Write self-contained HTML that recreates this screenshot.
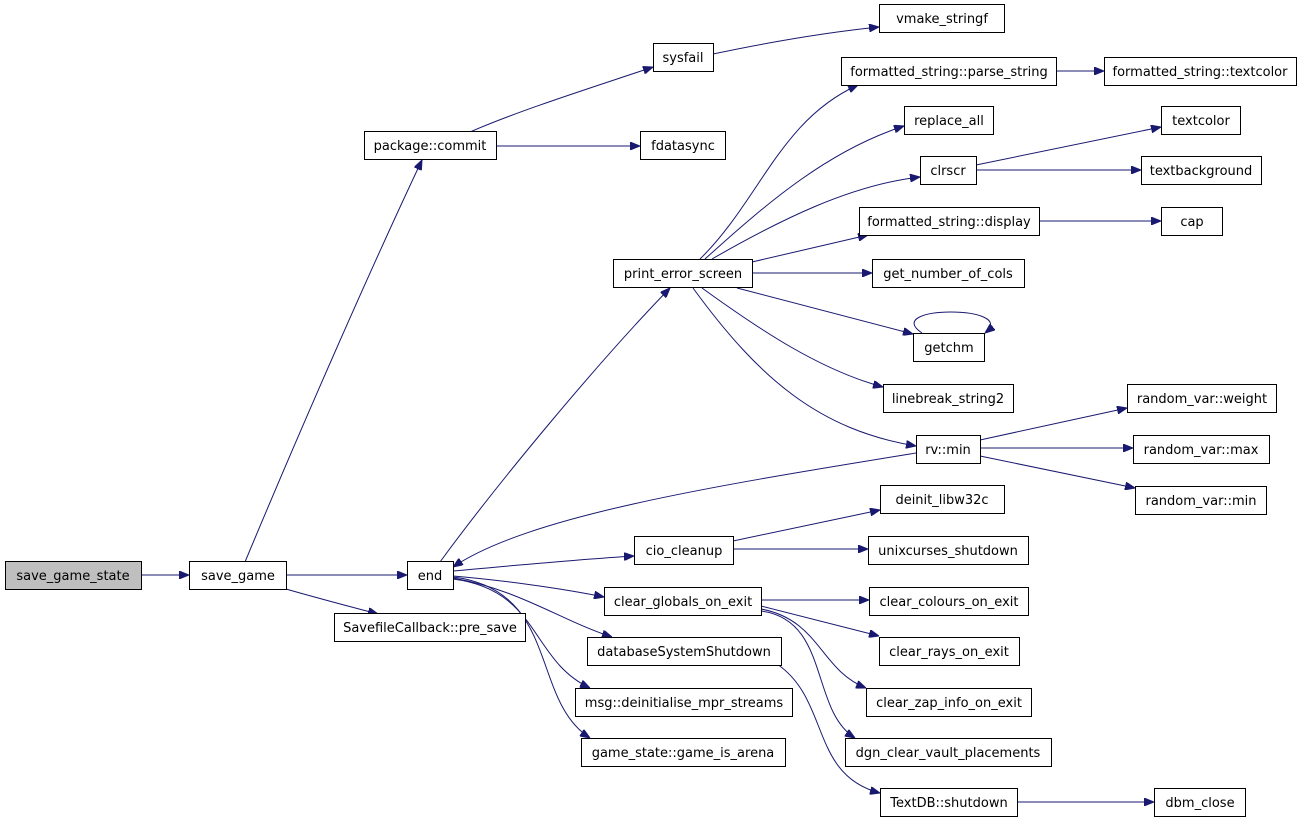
<!DOCTYPE html>
<html><head><meta charset="utf-8"><style>html,body{margin:0;padding:0;background:#fff}svg{display:block}</style></head><body>
<svg width="1301" height="821" viewBox="0 0 1301 821" xmlns="http://www.w3.org/2000/svg" font-family="'DejaVu Sans','Liberation Sans',sans-serif" font-size="13">
<defs><marker id="a" markerWidth="10" markerHeight="8" refX="10" refY="4" orient="auto" markerUnits="userSpaceOnUse"><path d="M0,0 L10,4 L0,8 Z" fill="#191970" stroke="#191970"/></marker></defs>
<g fill="none" stroke="#191970" stroke-width="1" marker-end="url(#a)">
<path d="M141,575 L189,575"/>
<path d="M286,575 L407,575"/>
<path d="M286,589 C310,596 340,604 378,614"/>
<path d="M245,562 C300,430 370,270 422,160"/>
<path d="M470,132 C520,110 600,85 653,67"/>
<path d="M496,146 L640,146"/>
<path d="M713,54 C770,42 830,32 879,27"/>
<path d="M440,562 C500,480 600,360 670,288"/>
<path d="M453,571 C510,566 570,560 634,556"/>
<path d="M453,576 C500,580 560,588 604,597"/>
<path d="M453,578 C520,590 560,620 612,637"/>
<path d="M453,579 C540,590 530,660 590,688"/>
<path d="M453,577 C560,590 530,700 590,738"/>
<path d="M916,453 C720,485 530,515 453,567"/>
<path d="M700,259 C760,200 780,120 858,85"/>
<path d="M705,259 C770,200 830,150 904,126"/>
<path d="M712,259 C780,220 850,185 920,177"/>
<path d="M752,262 L868,235"/>
<path d="M752,273 L872,273"/>
<path d="M737,288 L913,334"/>
<path d="M702,288 C760,330 820,370 883,387"/>
<path d="M693,288 C760,380 820,430 916,446"/>
<path d="M922,333 C880,305 1020,305 985,333"/>
<path d="M1056,71 L1104,71"/>
<path d="M976,165 L1161,127"/>
<path d="M976,170 L1141,170"/>
<path d="M1039,221 L1161,221"/>
<path d="M980,440 L1127,408"/>
<path d="M980,448 L1133,448"/>
<path d="M980,456 L1135,488"/>
<path d="M733,541 L880,510"/>
<path d="M733,549 L868,549"/>
<path d="M761,600 L869,600"/>
<path d="M761,606 L879,636"/>
<path d="M761,609 C820,620 820,670 866,688"/>
<path d="M761,611 C830,620 810,710 855,738"/>
<path d="M777,664 C830,700 810,775 880,793"/>
<path d="M1017,802 L1154,802"/>
</g>
<g stroke="#000" stroke-width="1">
<rect x="5.5" y="561.5" width="136" height="28" fill="#bfbfbf"/>
<g fill="#fff">
<rect x="189.5" y="561.5" width="97" height="28"/>
<rect x="364.5" y="131.5" width="132" height="28"/>
<rect x="334.5" y="613.5" width="191" height="28"/>
<rect x="407.5" y="561.5" width="46" height="28"/>
<rect x="653.5" y="43.5" width="60" height="28"/>
<rect x="879.5" y="4.5" width="125" height="28"/>
<rect x="640.5" y="131.5" width="85" height="28"/>
<rect x="613.5" y="259.5" width="139" height="28"/>
<rect x="841.5" y="57.5" width="215" height="28"/>
<rect x="1104.5" y="57.5" width="192" height="28"/>
<rect x="904.5" y="106.5" width="89" height="28"/>
<rect x="920.5" y="156.5" width="56" height="28"/>
<rect x="1161.5" y="106.5" width="79" height="28"/>
<rect x="1141.5" y="156.5" width="120" height="28"/>
<rect x="859.5" y="207.5" width="180" height="28"/>
<rect x="1161.5" y="207.5" width="61" height="28"/>
<rect x="872.5" y="259.5" width="152" height="28"/>
<rect x="913.5" y="333.5" width="71" height="28"/>
<rect x="883.5" y="384.5" width="130" height="28"/>
<rect x="916.5" y="435.5" width="64" height="28"/>
<rect x="1127.5" y="384.5" width="149" height="28"/>
<rect x="1133.5" y="435.5" width="136" height="28"/>
<rect x="1135.5" y="486.5" width="131" height="28"/>
<rect x="880.5" y="485.5" width="124" height="28"/>
<rect x="634.5" y="536.5" width="99" height="28"/>
<rect x="868.5" y="536.5" width="160" height="28"/>
<rect x="604.5" y="587.5" width="157" height="28"/>
<rect x="869.5" y="587.5" width="159" height="28"/>
<rect x="879.5" y="637.5" width="140" height="28"/>
<rect x="587.5" y="637.5" width="194" height="28"/>
<rect x="866.5" y="688.5" width="165" height="28"/>
<rect x="575.5" y="688.5" width="217" height="28"/>
<rect x="845.5" y="738.5" width="206" height="28"/>
<rect x="581.5" y="738.5" width="204" height="28"/>
<rect x="880.5" y="788.5" width="137" height="28"/>
<rect x="1154.5" y="788.5" width="91" height="28"/>
</g></g>
<g fill="#000" text-anchor="middle">
<text x="73" y="580">save_game_state</text>
<text x="238" y="580">save_game</text>
<text x="430" y="150">package::commit</text>
<text x="430" y="632">SavefileCallback::pre_save</text>
<text x="430" y="580">end</text>
<text x="683" y="62">sysfail</text>
<text x="942" y="23">vmake_stringf</text>
<text x="683" y="150">fdatasync</text>
<text x="683" y="278">print_error_screen</text>
<text x="949" y="76">formatted_string::parse_string</text>
<text x="1200" y="76">formatted_string::textcolor</text>
<text x="949" y="125">replace_all</text>
<text x="948" y="175">clrscr</text>
<text x="1201" y="125">textcolor</text>
<text x="1201" y="175">textbackground</text>
<text x="949" y="226">formatted_string::display</text>
<text x="1192" y="226">cap</text>
<text x="948" y="278">get_number_of_cols</text>
<text x="949" y="352">getchm</text>
<text x="948" y="403">linebreak_string2</text>
<text x="948" y="454">rv::min</text>
<text x="1202" y="403">random_var::weight</text>
<text x="1201" y="454">random_var::max</text>
<text x="1201" y="505">random_var::min</text>
<text x="942" y="504">deinit_libw32c</text>
<text x="684" y="555">cio_cleanup</text>
<text x="948" y="555">unixcurses_shutdown</text>
<text x="683" y="606">clear_globals_on_exit</text>
<text x="949" y="606">clear_colours_on_exit</text>
<text x="949" y="656">clear_rays_on_exit</text>
<text x="684" y="656">databaseSystemShutdown</text>
<text x="949" y="707">clear_zap_info_on_exit</text>
<text x="684" y="707">msg::deinitialise_mpr_streams</text>
<text x="948" y="757">dgn_clear_vault_placements</text>
<text x="683" y="757">game_state::game_is_arena</text>
<text x="949" y="807">TextDB::shutdown</text>
<text x="1200" y="807">dbm_close</text>
</g>
</svg>
</body></html>
